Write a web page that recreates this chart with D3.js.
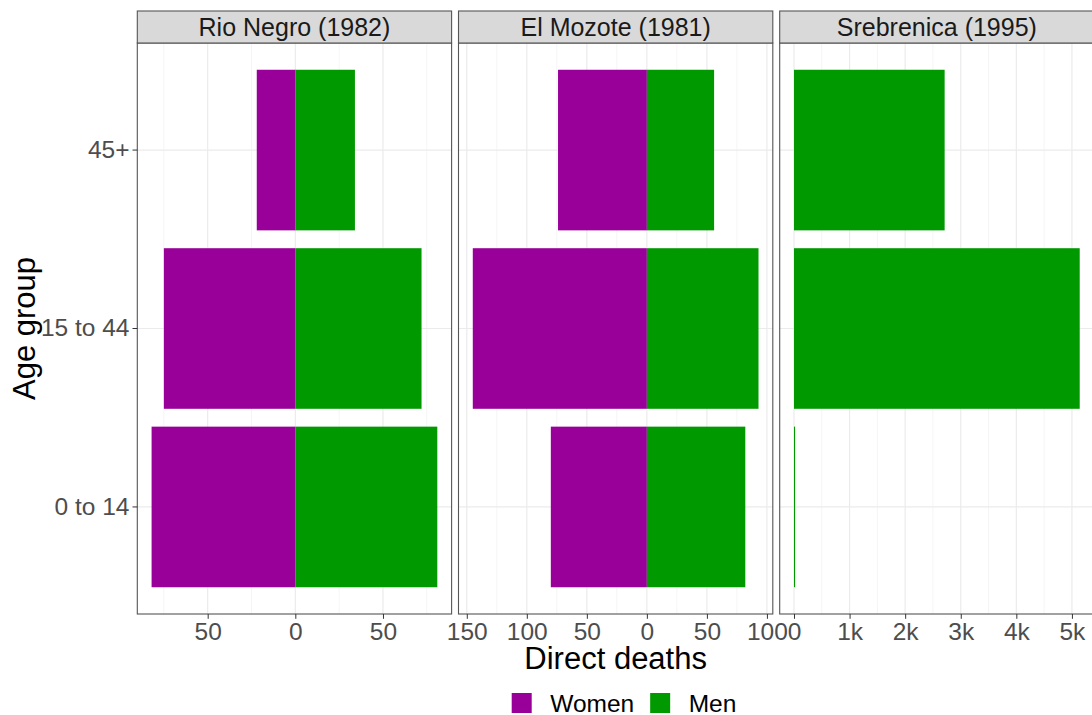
<!DOCTYPE html>
<html>
<head>
<meta charset="utf-8">
<script src="https://cdn.jsdelivr.net/npm/d3@7"></script>
<style>
	body { margin: 0; background: #fff; }
	svg { display: block; font-family: "Liberation Sans", Arial, sans-serif; }
</style>
</head>
<body>
<div id="root"></div>
<script>
// data
const MASSACRES = ["Rio Negro (1982)", "El Mozote (1981)", "Srebrenica (1995)"]
const AGE_GROUPS = ["0 to 14", "15 to 44", "45+"]
const SEXES = ["Women", "Men"]
// one row per massacre, values in AGE_GROUPS order
const WOMEN = [
	[82, 75, 22],
	[80, 145, 74],
	[0, 0, 0],
]
const MEN = [
	[81, 72, 34],
	[82, 93, 56],
	[20, 5140, 2710],
]
const X_TICKS = [
	[-50, 0, 50],
	[-150, -100, -50, 0, 50, 100],
	[0, 1000, 2000, 3000, 4000, 5000],
]
const COLOR = { Women: "#990099", Men: "#009900" }

const width = 1092, height = 715
const panelTop = 43, panelBottom = 614, stripTop = 11
const panelLeft = 137.3, panelW = 314.3, panelGap = 6.9
const FONT_TICK = 24.5, FONT_STRIP = 25, FONT_TITLE = 31, FONT_LEGEND = 24.5

const svg = d3.select('#root')
	.append('svg')
	.attr('width', width)
	.attr('height', height)

// labels show absolute counts, thousands as "k"
const fmt = v => {
	const a = Math.abs(v)
	return a >= 1000 ? (a / 1000) + "k" : String(a)
}

const y = d3.scaleBand()
	.domain(AGE_GROUPS)
	.range([panelBottom, panelTop])
	.paddingInner(0.1)
	.paddingOuter(0.15)

MASSACRES.forEach((name, i) => {
	const x0 = panelLeft + i * (panelW + panelGap)
	const rows = AGE_GROUPS.map((age, j) => ({ age, women: WOMEN[i][j], men: MEN[i][j] }))
	const lo = Math.min(0, d3.min(rows, d => -d.women)),
		hi = Math.max(0, d3.max(rows, d => d.men)),
		pad = (hi - lo) * 0.05

	const x = d3.scaleLinear()
		.domain([lo - pad, hi + pad])
		.range([x0, x0 + panelW])

	const g = svg.append('g').attr('class', 'panel')

	// minor grid: halfway between major breaks
	const ticks = X_TICKS[i]
	const step = ticks[1] - ticks[0]
	const minors = d3.range(ticks[0] - step / 2, hi + pad, step)
		.filter(v => v > lo - pad && v < hi + pad)

	g.append('rect')
		.attr('x', x0).attr('y', panelTop)
		.attr('width', panelW).attr('height', panelBottom - panelTop)
		.attr('fill', '#fff')

	g.selectAll('.minor')
		.data(minors)
		.enter().append('line')
		.attr('x1', d => x(d)).attr('x2', d => x(d))
		.attr('y1', panelTop).attr('y2', panelBottom)
		.attr('stroke', '#f2f2f2')
		.attr('stroke-width', 0.8)

	g.selectAll('.majorx')
		.data(ticks)
		.enter().append('line')
		.attr('x1', d => x(d)).attr('x2', d => x(d))
		.attr('y1', panelTop).attr('y2', panelBottom)
		.attr('stroke', '#ebebeb')
		.attr('stroke-width', 1.2)

	g.selectAll('.majory')
		.data(AGE_GROUPS)
		.enter().append('line')
		.attr('x1', x0).attr('x2', x0 + panelW)
		.attr('y1', d => y(d) + y.bandwidth() / 2)
		.attr('y2', d => y(d) + y.bandwidth() / 2)
		.attr('stroke', '#ebebeb')
		.attr('stroke-width', 1.2)

	// bars
	g.selectAll('.women')
		.data(rows)
		.enter().append('rect')
		.attr('x', d => x(-d.women))
		.attr('width', d => x(0) - x(-d.women))
		.attr('y', d => y(d.age))
		.attr('height', y.bandwidth())
		.attr('fill', COLOR.Women)

	g.selectAll('.men')
		.data(rows)
		.enter().append('rect')
		.attr('x', x(0))
		.attr('width', d => x(d.men) - x(0))
		.attr('y', d => y(d.age))
		.attr('height', y.bandwidth())
		.attr('fill', COLOR.Men)

	// panel border
	g.append('rect')
		.attr('x', x0).attr('y', panelTop)
		.attr('width', panelW).attr('height', panelBottom - panelTop)
		.attr('fill', 'none')
		.attr('stroke', '#555')
		.attr('stroke-width', 1.1)

	// strip
	g.append('rect')
		.attr('x', x0).attr('y', stripTop)
		.attr('width', panelW).attr('height', panelTop - stripTop)
		.attr('fill', '#d9d9d9')
		.attr('stroke', '#555')
		.attr('stroke-width', 1.1)
	g.append('text')
		.attr('x', x0 + panelW / 2)
		.attr('y', (stripTop + panelTop) / 2)
		.attr('dy', '0.36em')
		.attr('text-anchor', 'middle')
		.attr('fill', '#1a1a1a')
		.style('font-size', FONT_STRIP + 'px')
		.text(name)

	// x axis
	const ax = svg.append('g')
		.attr('transform', `translate(0,${panelBottom})`)
		.call(d3.axisBottom(x).tickValues(ticks).tickFormat(fmt).tickSizeInner(4.8).tickSizeOuter(0).tickPadding(3.5))
	ax.select('.domain').remove()
	ax.selectAll('line').attr('stroke', '#333')
	ax.selectAll('text')
		.attr('fill', '#4d4d4d')
		.style('font-size', FONT_TICK + 'px')
		.style('font-family', '"Liberation Sans", Arial, sans-serif')

	// y axis on first panel only
	if (i === 0) {
		const ay = svg.append('g')
			.attr('transform', `translate(${x0},0)`)
			.call(d3.axisLeft(y).tickSizeInner(4.8).tickSizeOuter(0).tickPadding(3))
		ay.select('.domain').remove()
		ay.selectAll('line').attr('stroke', '#333')
		ay.selectAll('text')
			.attr('fill', '#4d4d4d')
			.style('font-size', FONT_TICK + 'px')
			.style('font-family', '"Liberation Sans", Arial, sans-serif')
	}
})

// axis titles
const panelsRight = panelLeft + 3 * panelW + 2 * panelGap
svg.append('text')
	.attr('x', (panelLeft + panelsRight) / 2)
	.attr('y', 669)
	.attr('text-anchor', 'middle')
	.style('font-size', FONT_TITLE + 'px')
	.text('Direct deaths')

svg.append('text')
	.attr('transform', `translate(35,${(panelTop + panelBottom) / 2}) rotate(-90)`)
	.attr('text-anchor', 'middle')
	.style('font-size', FONT_TITLE + 'px')
	.text('Age group')

// legend
const legend = svg.append('g').attr('transform', 'translate(511.7,693)')
let lx = 0
SEXES.forEach(s => {
	legend.append('rect')
		.attr('x', lx).attr('y', 0)
		.attr('width', 20).attr('height', 20)
		.attr('fill', COLOR[s])
	const t = legend.append('text')
		.attr('x', lx + 38.5)
		.attr('y', 19)
		.style('font-size', FONT_LEGEND + 'px')
		.text(s)
	lx += 38.5 + t.node().getComputedTextLength() + 16
})
</script>
</body>
</html>
